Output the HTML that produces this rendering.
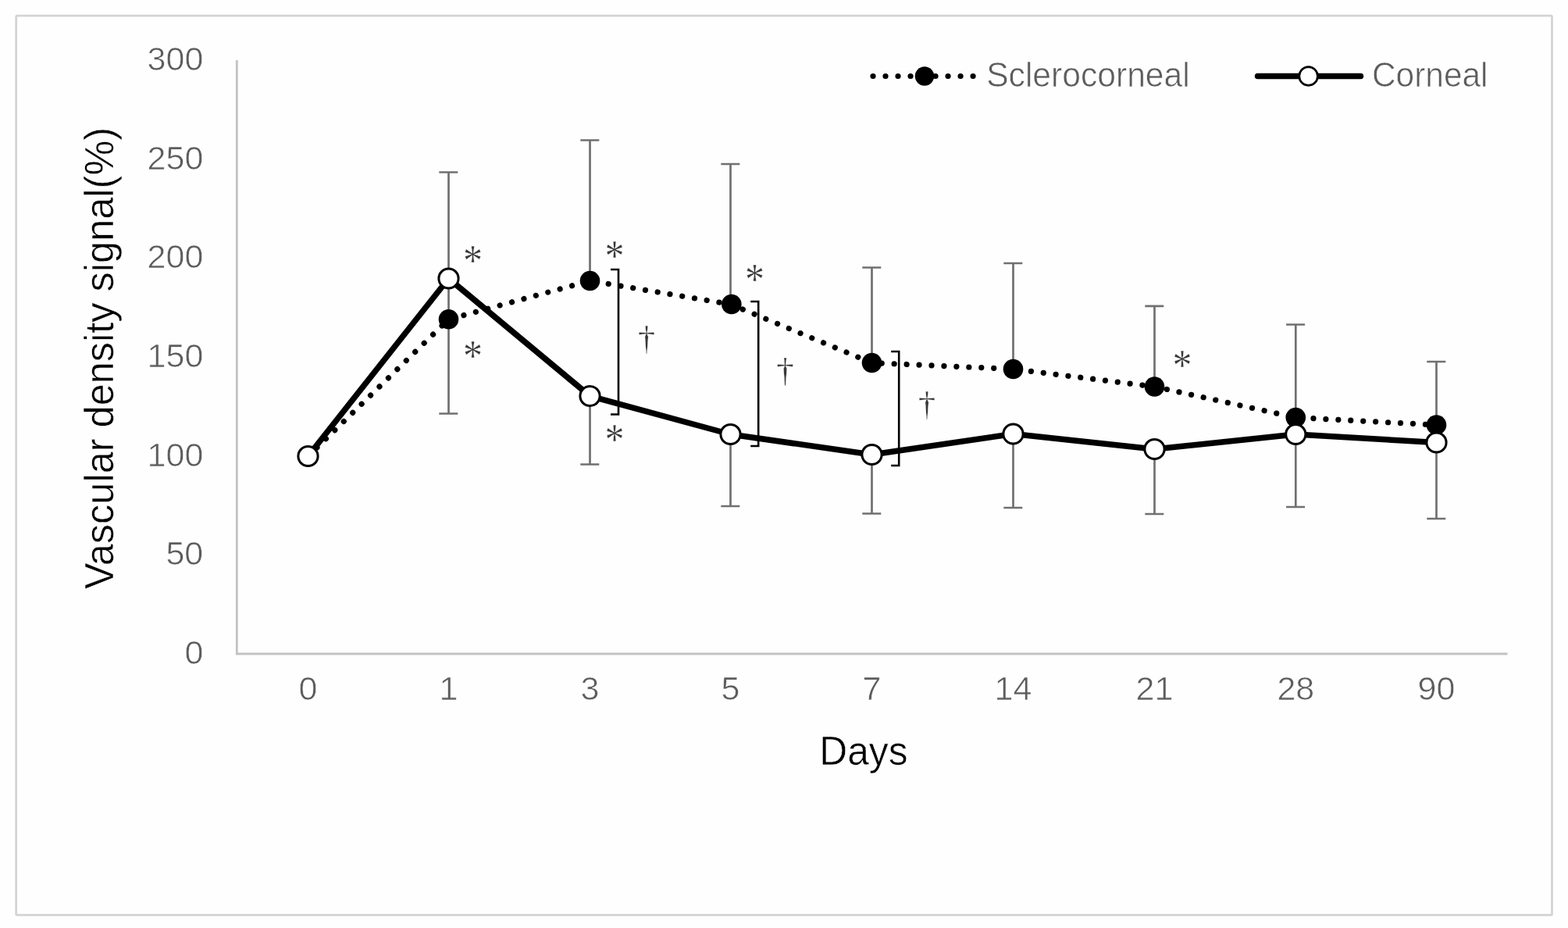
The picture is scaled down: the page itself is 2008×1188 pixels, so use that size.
<!DOCTYPE html>
<html lang="en">
<head>
<meta charset="utf-8">
<title>Vascular density signal</title>
<style>
html,body{margin:0;padding:0;background:#fff;}
body{width:2008px;height:1188px;overflow:hidden;}
svg{display:block;}
text{font-family:"Liberation Sans",sans-serif;}
.tick{fill:#5c5c5c;font-size:43px;stroke:#fefefe;stroke-width:0.65px;}
.leg{fill:#5c5c5c;font-size:44.2px;stroke:#fefefe;stroke-width:0.65px;}
.ttl{fill:#000;font-size:52px;stroke:#fefefe;stroke-width:0.55px;}
.sym{font-family:"Liberation Serif","DejaVu Serif",serif;fill:#383838;stroke:#fefefe;stroke-width:0.35px;}
</style>
</head>
<body>
<svg width="2008" height="1188" viewBox="0 0 2008 1188">
<rect x="0" y="0" width="2008" height="1188" fill="#fefefe"/>
<rect x="20.7" y="20.1" width="1966.8" height="1151.3" rx="1.5" fill="none" stroke="#d4d4d4" stroke-width="2.8"/>
<g fill="none" stroke="#c2c2c2" stroke-width="2.8">
<path d="M303.3 77 V837 H1930.5"/>
</g>

<g class="tick" text-anchor="end">
<text x="260.3" y="90.2">300</text>
<text x="260.3" y="216.7">250</text>
<text x="260.3" y="343.2">200</text>
<text x="260.3" y="469.7">150</text>
<text x="260.3" y="596.7">100</text>
<text x="260.3" y="723.2">50</text>
<text x="260.3" y="849.7">0</text>
</g>
<g class="tick" text-anchor="middle">
<text x="394.5" y="895.8">0</text>
<text x="574.5" y="895.8">1</text>
<text x="755.5" y="895.8">3</text>
<text x="935.5" y="895.8">5</text>
<text x="1116.5" y="895.8">7</text>
<text x="1297.5" y="895.8">14</text>
<text x="1478.5" y="895.8">21</text>
<text x="1659.3" y="895.8">28</text>
<text x="1839.5" y="895.8">90</text>
</g>
<text class="ttl" x="1049.3" y="978.8" textLength="113.2" lengthAdjust="spacingAndGlyphs">Days</text>
<text class="ttl" transform="translate(144.6 754.2) rotate(-90)" textLength="591.3" lengthAdjust="spacingAndGlyphs">Vascular density signal(%)</text>
<g fill="none" stroke="#707070" stroke-width="2.7">
<path d="M574.5 408.8 V220.5 M562.3 220.5 H586.3 M574.5 356.5 V529.5 M562.3 529.5 H586.3"/>
<path d="M755.5 359.5 V179.5 M743.3 179.5 H767.3 M755.5 507.0 V594.5 M743.3 594.5 H767.3"/>
<path d="M935.5 389.5 V210.0 M923.3 210.0 H947.3 M935.5 556.0 V648.0 M923.3 648.0 H947.3"/>
<path d="M1116.5 464.5 V342.5 M1104.3 342.5 H1128.3 M1116.5 582.0 V657.5 M1104.3 657.5 H1128.3"/>
<path d="M1297.5 472.5 V337.0 M1285.3 337.0 H1309.3 M1297.5 555.5 V650.0 M1285.3 650.0 H1309.3"/>
<path d="M1478.5 495.0 V391.8 M1466.3 391.8 H1490.3 M1478.5 575.0 V658.0 M1466.3 658.0 H1490.3"/>
<path d="M1659.3 534.5 V415.5 M1647.1 415.5 H1671.1 M1659.3 556.0 V649.0 M1647.1 649.0 H1671.1"/>
<path d="M1839.5 544.0 V463.0 M1827.3 463.0 H1851.3 M1839.5 566.5 V664.0 M1827.3 664.0 H1851.3"/>
</g>
<polyline points="394.5,584.0 574.5,408.8 755.5,359.5 935.5,389.5 1116.5,464.5 1297.5,472.5 1478.5,495.0 1659.3,534.5 1839.5,544.0" fill="none" stroke="#000" stroke-width="7.2" stroke-linecap="round" stroke-linejoin="round" stroke-dasharray="0.01 15.95"/>
<circle cx="394.5" cy="584.0" r="12.8" fill="#000"/>
<circle cx="574.5" cy="408.8" r="12.8" fill="#000"/>
<circle cx="755.5" cy="359.5" r="12.8" fill="#000"/>
<circle cx="936.8" cy="389.5" r="12.8" fill="#000"/>
<circle cx="1116.5" cy="464.5" r="12.8" fill="#000"/>
<circle cx="1297.5" cy="472.5" r="12.8" fill="#000"/>
<circle cx="1478.5" cy="495.0" r="12.8" fill="#000"/>
<circle cx="1659.3" cy="534.5" r="12.8" fill="#000"/>
<circle cx="1839.5" cy="544.0" r="12.8" fill="#000"/>
<polyline points="394.5,584.0 574.5,356.5 755.5,507.0 935.5,556.0 1116.5,582.0 1297.5,555.5 1478.5,575.0 1659.3,556.0 1839.5,566.5" fill="none" stroke="#000" stroke-width="7.5" stroke-linecap="round" stroke-linejoin="round"/>
<circle cx="394.5" cy="584.0" r="12.6" fill="#fff" stroke="#000" stroke-width="3"/>
<circle cx="574.5" cy="356.5" r="12.6" fill="#fff" stroke="#000" stroke-width="3"/>
<circle cx="755.5" cy="507.0" r="12.6" fill="#fff" stroke="#000" stroke-width="3"/>
<circle cx="935.5" cy="556.0" r="12.6" fill="#fff" stroke="#000" stroke-width="3"/>
<circle cx="1116.5" cy="582.0" r="12.6" fill="#fff" stroke="#000" stroke-width="3"/>
<circle cx="1297.5" cy="555.5" r="12.6" fill="#fff" stroke="#000" stroke-width="3"/>
<circle cx="1478.5" cy="575.0" r="12.6" fill="#fff" stroke="#000" stroke-width="3"/>
<circle cx="1659.3" cy="556.0" r="12.6" fill="#fff" stroke="#000" stroke-width="3"/>
<circle cx="1839.5" cy="566.5" r="12.6" fill="#fff" stroke="#000" stroke-width="3"/>
<g fill="none" stroke="#000" stroke-width="2.6">
<path d="M782.0 345 H792.0 V530.5 H782.0"/>
<path d="M961.2 386 H971.2 V571 H961.2"/>
<path d="M1141.2 450 H1151.2 V596 H1141.2"/>
</g>
<text class="sym" font-size="51" transform="translate(605.5 327.0) scale(0.98 1.1)" x="-12.78" y="24.05">*</text>
<text class="sym" font-size="51" transform="translate(605.5 449.0) scale(0.98 1.1)" x="-12.78" y="24.05">*</text>
<text class="sym" font-size="51" transform="translate(787 321.0) scale(0.98 1.1)" x="-12.78" y="24.05">*</text>
<text class="sym" font-size="51" transform="translate(787 555.5) scale(0.98 1.1)" x="-12.78" y="24.05">*</text>
<text class="sym" font-size="51" transform="translate(966.5 351.0) scale(0.98 1.1)" x="-12.78" y="24.05">*</text>
<text class="sym" font-size="51" transform="translate(1514 461.0) scale(0.98 1.1)" x="-12.78" y="24.05">*</text>
<text class="sym" text-anchor="middle" font-size="45" x="828" y="448.2">†</text>
<text class="sym" text-anchor="middle" font-size="45" x="1005.5" y="489.2">†</text>
<text class="sym" text-anchor="middle" font-size="45" x="1187" y="531.7">†</text>
<path d="M1118 97.5 H1250" fill="none" stroke="#000" stroke-width="7.2" stroke-linecap="round" stroke-dasharray="0.01 16"/>
<circle cx="1184" cy="97.5" r="12.2" fill="#000"/>
<text class="leg" x="1263.2" y="111.4" textLength="260.5" lengthAdjust="spacingAndGlyphs">Sclerocorneal</text>
<path d="M1610.6 97.5 H1742.4" fill="none" stroke="#000" stroke-width="7.6" stroke-linecap="round"/>
<circle cx="1675.6" cy="97.5" r="11.8" fill="#fff" stroke="#000" stroke-width="2.7"/>
<text class="leg" x="1757" y="111.4" textLength="148.5" lengthAdjust="spacingAndGlyphs">Corneal</text>
</svg>
</body>
</html>
